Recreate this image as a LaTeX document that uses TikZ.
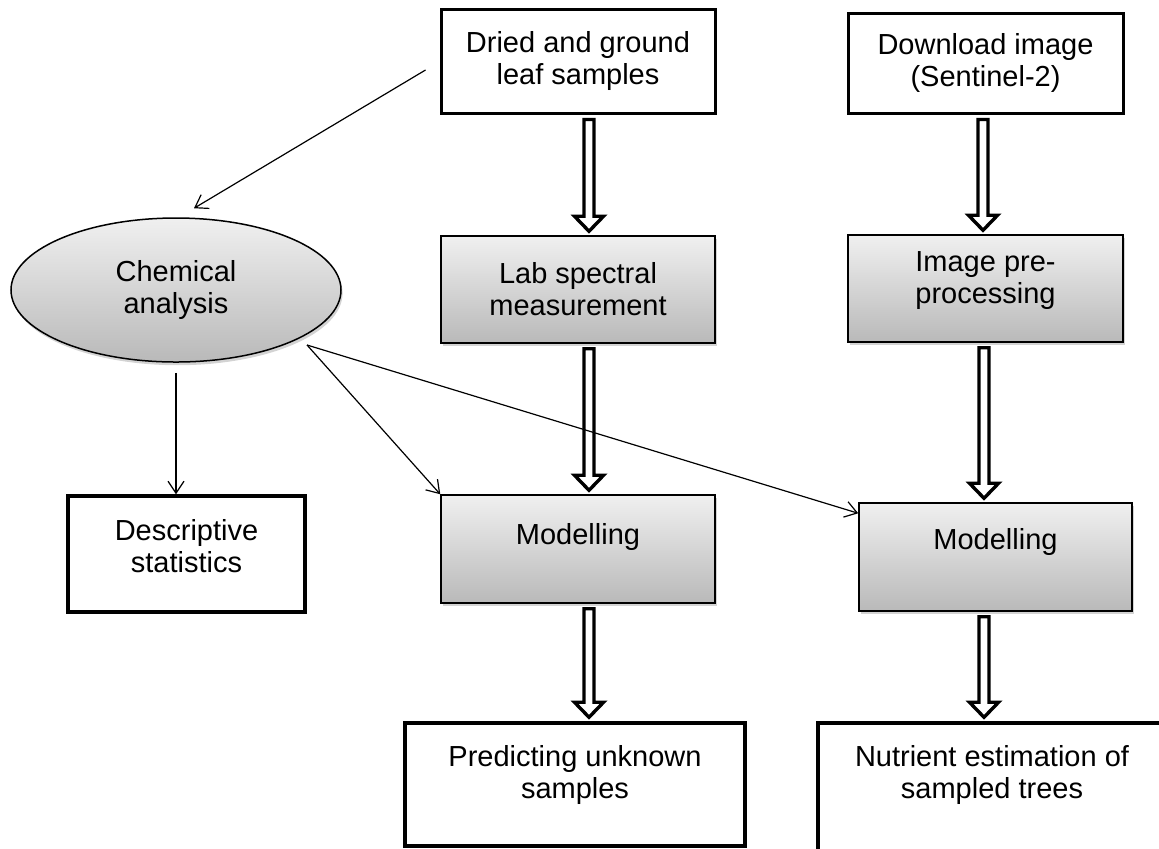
\documentclass[tikz,border=0pt]{standalone}
\usepackage{fontspec}
\setmainfont{Liberation Sans}
\usetikzlibrary{arrows.meta,positioning,shapes.geometric,calc,shadows}
\definecolor{boxtop}{RGB}{240,240,240}
\definecolor{boxbottom}{RGB}{185,185,185}
\tikzset{
    txt/.style      = {font=\fontsize{14.5pt}{16pt}\selectfont, align=center},
    plainbox/.style = {txt, draw=black, line width=1.75pt, fill=white,
            minimum width=137pt, minimum height=52pt, inner sep=0pt},
    shadebox/.style = {txt, draw=black, line width=0.75pt,
            top color=boxtop, bottom color=boxbottom,
            minimum width=137pt, minimum height=53.5pt, inner sep=0pt,
            drop shadow={opacity=0.35, shadow xshift=0.8pt, shadow yshift=-1.6pt}},
    chemical/.style = {ellipse, shadebox, minimum width=165pt, minimum height=72pt},
    line/.style     = {-{Straight Barb[length=6pt,width=8pt]}, line width=0.6pt},
    hollow/.style   = {draw=black, fill=white, line width=1.7pt},
}
% hollow block arrow: x position, from node, to node
\newcommand{\blockarrow}[3]{%
    \coordinate (ba-a) at (#1,0 |- #2.south);
    \coordinate (ba-b) at (#1,0 |- #3.north);
    \coordinate (ba-s) at ([yshift=-2.5pt]ba-a);
    \coordinate (ba-t) at ([yshift=2pt]ba-b);
    \draw[hollow] ([shift={(-5,0)}]ba-s) -- ([shift={(5,0)}]ba-s)
        -- ([shift={(5,-15)}]ba-t) -- ([shift={(14.5,-15)}]ba-t) -- (ba-t)
        -- ([shift={(-14.5,-15)}]ba-t) -- ([shift={(-5,-15)}]ba-t) -- cycle;
}

\begin{document}
\begin{tikzpicture}[x=0.5pt, y=-0.5pt]
    \path[use as bounding box] (0,0) rectangle (1159,848);
    \clip (0,0) rectangle (1159,848);

    % Nodes
    \node[plainbox, line width=1.5pt] (dried) at (578,61) {Dried and ground\\leaf samples};
    \node[plainbox, line width=1.5pt, minimum width=137.5pt, minimum height=50pt] (download) at (985.5,63) {Download image\\(Sentinel-2)};
    \node[shadebox] (lab) at (578,289.5) {Lab spectral\\measurement};
    \node[shadebox, minimum width=137.5pt, text depth=11pt] (imgpre) at (985.5,288.5) {Image pre-\\processing};
    \node[chemical] (chem) at (176,290) {Chemical\\analysis};
    \node[plainbox, minimum width=118.5pt, minimum height=58pt, text depth=8pt] (desc) at (186.5,554) {Descriptive\\statistics};
    \node[shadebox, minimum height=54pt, text depth=15.5pt] (model1) at (578,549) {Modelling};
    \node[shadebox, minimum width=136.5pt, minimum height=54pt, text depth=18pt] (model2) at (995.5,557) {Modelling};
    \node[plainbox, minimum width=170pt, minimum height=61.5pt, text depth=13pt] (predict) at (575,784.5) {Predicting unknown\\samples};
    \node[plainbox, minimum width=174pt, minimum height=66pt, text depth=17pt] (nutrient) at (992,789) {Nutrient estimation of\\sampled trees};

    % Block arrows
    \blockarrow{589}{dried}{lab}
    \blockarrow{983}{download}{imgpre}
    \blockarrow{589}{lab}{model1}
    \blockarrow{984}{imgpre}{model2}
    \blockarrow{589}{model1}{predict}
    \blockarrow{984}{model2}{nutrient}

    % Thin arrows
    \coordinate (chemout) at ([shift={(131,55)}]chem.center);
    \draw[line] ([shift={(-14,9)}]dried.west) -- ([shift={(18,-9)}]chem.north);
    \draw[line] ([yshift=-5pt]chem.south) -- (chem.south |- desc.north);
    \draw[line] (chemout) -- (model1.north west);
    \draw[line] (chemout) -- ([shift={(0,11)}]model2.north west);
\end{tikzpicture}
\end{document}
